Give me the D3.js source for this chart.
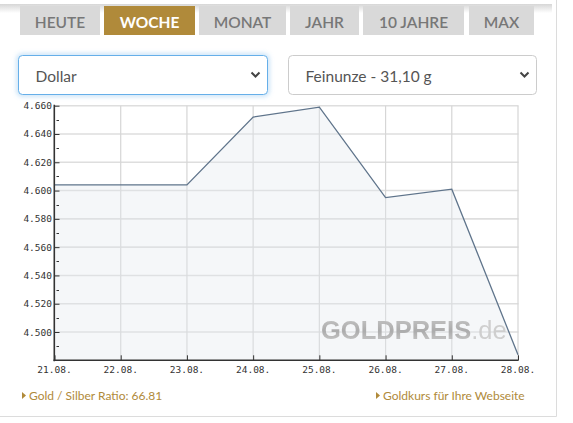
<!DOCTYPE html>
<html>
<head>
<meta charset="utf-8">
<script src="https://cdn.jsdelivr.net/npm/d3@7"></script>
<style>
html,body{margin:0;padding:0;background:#fff;}
svg{display:block;}
</style>
</head>
<body>
<script>
// ---- data ----
const dates = ["21.08.","22.08.","23.08.","24.08.","25.08.","26.08.","27.08.","28.08."];
const prices = [4604, 4604, 4604, 4652, 4659, 4595, 4601, 4484];
const yTicks = [4500, 4520, 4540, 4560, 4580, 4600, 4620, 4640, 4660];
const yMinor = [4490, 4510, 4530, 4550, 4570, 4590, 4610, 4630, 4650];
const tabs = ["HEUTE","WOCHE","MONAT","JAHR","10 JAHRE","MAX"];
const activeTab = "WOCHE";
const selects = ["Dollar","Feinunze - 31,10 g"];
const ratioText = "Gold / Silber Ratio: 66.81";
const linkText = "Goldkurs für Ihre Webseite";

const W = 573, H = 423;
const svg = d3.select("body").append("svg").attr("width", W).attr("height", H);
const defs = svg.append("defs");

// top shadow
const sg = defs.append("linearGradient").attr("id","shadow").attr("x1",0).attr("y1",0).attr("x2",0).attr("y2",1);
sg.append("stop").attr("offset","0%").attr("stop-color","#d6d6d6");
sg.append("stop").attr("offset","100%").attr("stop-color","#ffffff");
svg.append("rect").attr("x",0).attr("y",4).attr("width",552).attr("height",9).attr("fill","url(#shadow)");
svg.append("rect").attr("x",0).attr("y",0).attr("width",552).attr("height",4).attr("fill","#fff");

// panel borders
svg.append("line").attr("x1",556.5).attr("x2",556.5).attr("y1",0).attr("y2",416.5).attr("stroke","#dcdcdc");
svg.append("line").attr("x1",0).attr("x2",556.5).attr("y1",416.5).attr("y2",416.5).attr("stroke","#dcdcdc");

// tabs
const tabX = [20, 104, 199, 290, 363, 469];
const tabW = [80, 91, 87, 69, 101, 65];
const tg = svg.append("g").selectAll("g").data(tabs).join("g");
tg.append("rect")
  .attr("x",(d,i)=>tabX[i]).attr("y",6).attr("width",(d,i)=>tabW[i]).attr("height",29)
  .attr("fill",d=>d===activeTab?"#b08a3a":"#d9d9d9");
tg.append("text")
  .attr("x",(d,i)=>tabX[i]+tabW[i]/2).attr("y",28)
  .attr("text-anchor","middle")
  .attr("font-family","Lato, sans-serif").attr("font-size",15.5)
  .attr("font-weight",d=>d===activeTab?"bold":"600")
  .attr("fill",d=>d===activeTab?"#ffffff":"#777777")
  .text(d=>d);

// selects
const glow = defs.append("filter").attr("id","glow").attr("x","-10%").attr("y","-30%").attr("width","120%").attr("height","160%");
glow.append("feGaussianBlur").attr("stdDeviation",2.5);
const selX = [18.5, 288.5], selW = [249, 248];
svg.append("rect").attr("x",selX[0]).attr("y",55.5).attr("width",selW[0]).attr("height",39).attr("rx",4)
  .attr("fill","none").attr("stroke","rgba(102,175,233,0.55)").attr("stroke-width",3).attr("filter","url(#glow)");
const sgp = svg.append("g").selectAll("g").data(selects).join("g");
sgp.append("rect").attr("x",(d,i)=>selX[i]).attr("y",55.5).attr("width",(d,i)=>selW[i]).attr("height",39).attr("rx",4)
  .attr("fill","#fff").attr("stroke",(d,i)=>i===0?"#66afe9":"#cccccc");
sgp.append("text").attr("x",(d,i)=>selX[i]+17).attr("y",82)
  .attr("font-family","Lato, sans-serif").attr("font-size",15.5).attr("fill","#555").text(d=>d);
sgp.append("path").attr("d",(d,i)=>{const cx=selX[i]+selW[i]-12;return `M${cx-4},72.5 L${cx},76.5 L${cx+4},72.5`;})
  .attr("fill","none").attr("stroke","#444").attr("stroke-width",2);

// chart
const x = d3.scalePoint().domain(dates).range([54.5, 518]);
const y = d3.scaleLinear().domain([4480, 4660]).range([360.3, 105.7]);
const fmt = v => d3.format(".3f")(v/1000);

const g = svg.append("g");
// horizontal grid
g.selectAll("line.hg").data(yTicks).join("line").attr("class","hg")
  .attr("x1",54.5).attr("x2",518.5).attr("y1",d=>y(d)).attr("y2",d=>y(d))
  .attr("stroke","#dedede").attr("stroke-width",1.6);
// vertical grid
g.selectAll("line.vg").data(dates.slice(1)).join("line").attr("class","vg")
  .attr("x1",d=>x(d)).attr("x2",d=>x(d)).attr("y1",y(4660)).attr("y2",y(4480))
  .attr("stroke","#d6d6d6").attr("stroke-width",1.2);

// area and line
const data = dates.map((d,i)=>({d, v:prices[i]}));
g.append("path").datum(data)
  .attr("d", d3.area().x(p=>x(p.d)).y0(y(4480)).y1(p=>y(p.v)))
  .attr("fill","rgba(225,231,238,0.35)");

// watermark
const wg = defs.append("linearGradient").attr("id","wmg").attr("x1",0).attr("y1",0).attr("x2",0).attr("y2",1);
wg.append("stop").attr("offset","0%").attr("stop-color","#c4c4c4");
wg.append("stop").attr("offset","55%").attr("stop-color","#a9a9a9");
wg.append("stop").attr("offset","100%").attr("stop-color","#c8c8c8");
const wm = g.append("text").attr("x",321).attr("y",338.5)
  .attr("font-family","Liberation Sans, Arial, sans-serif").attr("font-size",25.5).attr("fill","url(#wmg)").attr("opacity",0.95);
wm.append("tspan").attr("font-weight","bold").text("GOLDPREIS");
wm.append("tspan").attr("fill","#cdcdcd").text(".de");

g.append("path").datum(data)
  .attr("d", d3.line().x(p=>x(p.d)).y(p=>y(p.v)))
  .attr("fill","none").attr("stroke","#5f748b").attr("stroke-width",1.3);

// axes
const yAxis = d3.axisRight(y).tickValues(yTicks).tickSize(5).tickFormat("");
const ya = g.append("g").attr("transform","translate(54.5,0)").call(yAxis);
ya.select(".domain").remove();
ya.selectAll("line").attr("stroke","#333");
g.selectAll("line.ymin").data(yMinor).join("line").attr("class","ymin")
  .attr("x1",56.5).attr("x2",59).attr("y1",d=>Math.round(y(d))+0.5).attr("y2",d=>Math.round(y(d))+0.5)
  .attr("stroke","#333");
g.selectAll("text.yl").data(yTicks).join("text").attr("class","yl")
  .attr("x",52).attr("y",d=>y(d)+3.5).attr("text-anchor","end")
  .attr("font-family","DejaVu Sans Mono, monospace").attr("font-size",9.5).attr("fill","#333")
  .text(d=>fmt(d));

const xAxis = d3.axisTop(x).tickSize(5).tickFormat("");
const xa = g.append("g").attr("transform",`translate(0,${y(4480)})`).call(xAxis);
xa.select(".domain").remove();
xa.selectAll("line").attr("stroke","#333");
g.selectAll("text.xl").data(dates).join("text").attr("class","xl")
  .attr("x",d=>x(d)).attr("y",373).attr("text-anchor","middle")
  .attr("font-family","DejaVu Sans Mono, monospace").attr("font-size",9.5).attr("fill","#333")
  .text(d=>d);

g.append("line").attr("x1",54.3).attr("x2",54.3).attr("y1",y(4660)-1).attr("y2",y(4480)+1).attr("stroke","#333").attr("stroke-width",1.6);
g.append("line").attr("x1",53.5).attr("x2",518.5).attr("y1",y(4480)).attr("y2",y(4480)).attr("stroke","#333").attr("stroke-width",1.6);

// bottom links
const links = [{t:ratioText,x:22},{t:linkText,x:376}];
const lg = svg.append("g").selectAll("g").data(links).join("g");
lg.append("path").attr("d",d=>`M${d.x},392 L${d.x+4},395.5 L${d.x},399 Z`).attr("fill","#b08a3a");
lg.append("text").attr("x",d=>d.x+7).attr("y",400)
  .attr("font-family","Lato, sans-serif").attr("font-size",12).attr("fill","#b08a3a").text(d=>d.t);
</script>
</body>
</html>
